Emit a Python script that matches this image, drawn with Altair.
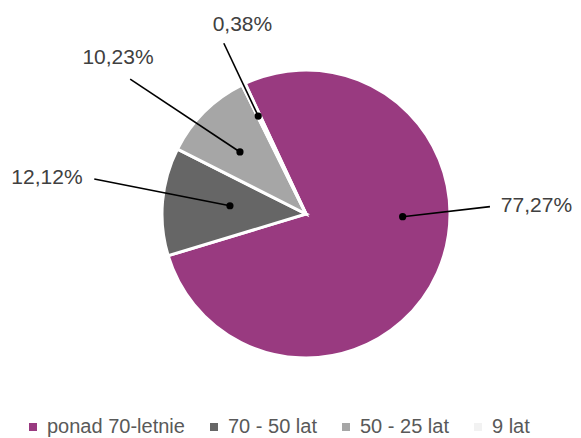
import math
import altair as alt
import pandas as pd

# ---- data ----
categories = ["ponad 70-letnie", "70 - 50 lat", "50 - 25 lat", "9 lat"]
values = [77.27, 12.12, 10.23, 0.38]
labels = ["77,27%", "12,12%", "10,23%", "0,38%"]
colors = ["#993A80", "#666666", "#A6A6A6", "#F2F2F2"]

# label placement (angle clockwise from top in degrees, distance from centre in px)
dot_angle = [91.6, 276.2, 313.2, 334.0]
dot_dist = [96.7, 76.5, 90.6, 109.0]
line_angle = [87.7, 279.4, 307.5, 334.3]
line_dist = [184.1, 214.6, 221.6, 189.5]
text_angle = [88.0, 277.9, 309.7, 341.4]
text_dist = [230.6, 261.5, 244.3, 199.4]

START_DEG = 335.0
RADIUS = 144
W, H = 565, 422
CX, CY = 298, 206  # pie centre inside the plot area

def px(a, r):
    return r * math.sin(math.radians(a))

def py(a, r):
    return r * math.cos(math.radians(a))

df = pd.DataFrame({
    "kat": categories,
    "value": values,
    "label": labels,
    "idx": list(range(len(categories))),
    "dx": [px(a, r) for a, r in zip(dot_angle, dot_dist)],
    "dy": [py(a, r) for a, r in zip(dot_angle, dot_dist)],
    "lx": [px(a, r) for a, r in zip(line_angle, line_dist)],
    "ly": [py(a, r) for a, r in zip(line_angle, line_dist)],
    "tx": [px(a, r) for a, r in zip(text_angle, text_dist)],
    "ty": [py(a, r) for a, r in zip(text_angle, text_dist)],
})

xs = alt.Scale(domain=[-CX, W - CX], range=[0, W], nice=False, zero=False)
ys = alt.Scale(domain=[-(H - CY), CY], range=[H, 0], nice=False, zero=False)

start = math.radians(START_DEG)
base = alt.Chart(df)

pie = base.mark_arc(outerRadius=RADIUS, stroke="white", strokeWidth=3).encode(
    theta=alt.Theta("value:Q", stack=True,
                    scale=alt.Scale(domain=[0, 100], range=[start, start + 2 * math.pi])),
    order=alt.Order("idx:Q"),
    color=alt.Color("kat:N", sort=categories,
                    scale=alt.Scale(domain=categories, range=colors),
                    legend=alt.Legend(title=None, orient="none", legendX=15, legendY=409,
                                      direction="horizontal", columns=4,
                                      symbolType="square", symbolSize=64, symbolStrokeWidth=0,
                                      labelFontSize=20, labelFont="Liberation Sans",
                                      labelColor="#595959", labelOffset=4, columnPadding=19)),
    x=alt.XDatum(0, scale=xs, axis=None),
    y=alt.YDatum(0, scale=ys, axis=None),
)

lines = base.mark_rule(color="black", strokeWidth=1.6).encode(
    x=alt.X("dx:Q", scale=xs, axis=None),
    y=alt.Y("dy:Q", scale=ys, axis=None),
    x2="lx:Q",
    y2="ly:Q",
)

dots = base.mark_circle(color="black", opacity=1, size=52).encode(
    x=alt.X("dx:Q", scale=xs, axis=None),
    y=alt.Y("dy:Q", scale=ys, axis=None),
)

texts = base.mark_text(font="Liberation Sans", fontSize=21, color="#404040",
                       align="center", baseline="middle").encode(
    x=alt.X("tx:Q", scale=xs, axis=None),
    y=alt.Y("ty:Q", scale=ys, axis=None),
    text="label:N",
)

chart = alt.layer(pie, lines, dots, texts).properties(
    width=W, height=H, padding=0
).configure_view(strokeWidth=0)

chart.save("out.html", embed_options={"renderer": "svg", "actions": False})
